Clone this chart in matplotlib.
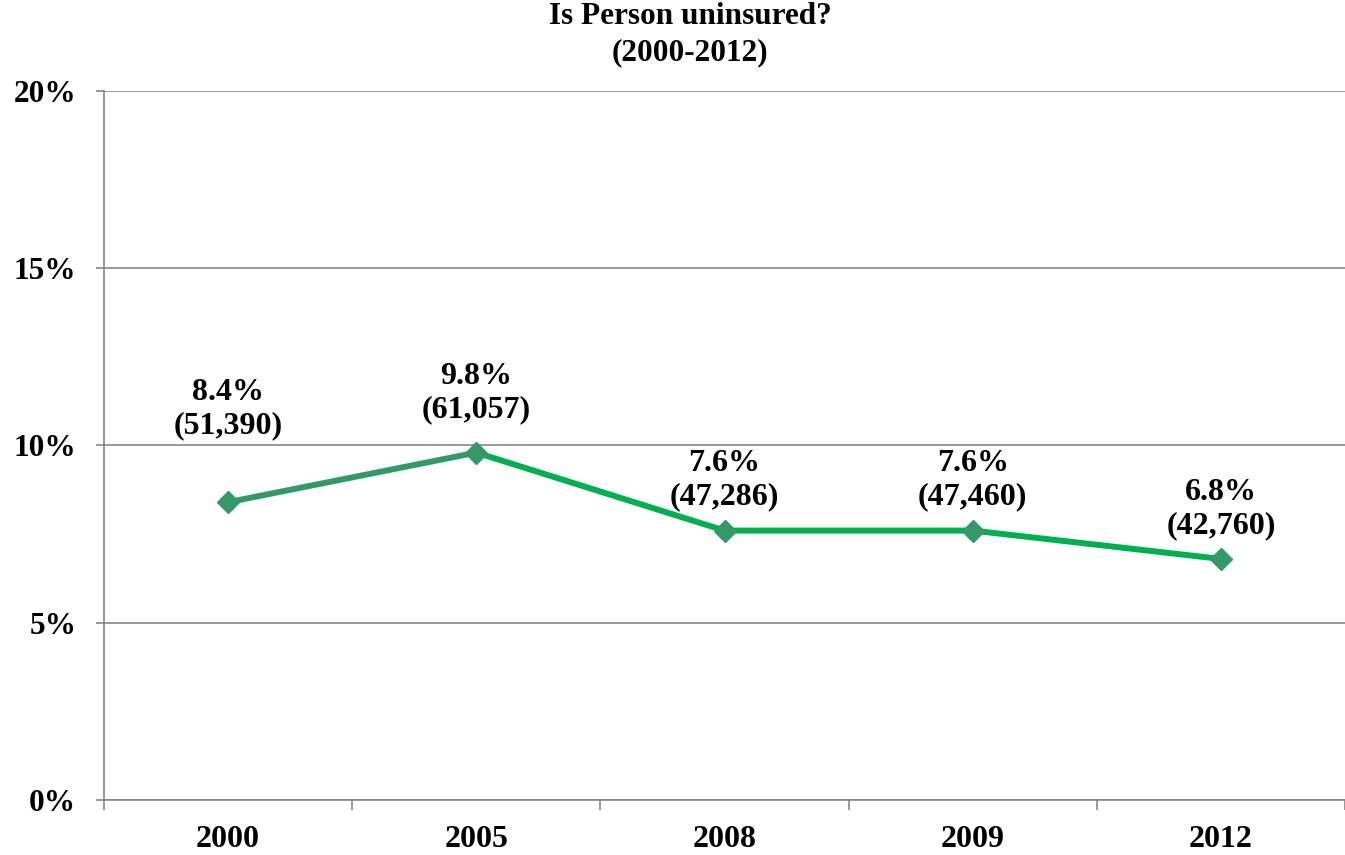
import numpy as np
import matplotlib
matplotlib.use('Agg')
import matplotlib.pyplot as plt

years = ['2000', '2005', '2008', '2009', '2012']
pct = [8.4, 9.8, 7.6, 7.6, 6.8]
counts = ['51,390', '61,057', '47,286', '47,460', '42,760']
yticks = [0, 5, 10, 15, 20]

# pixel offsets of the labels above each point
label_dy = [62, 28, 19, 19, 19]

plt.rcParams['font.family'] = ['Liberation Serif', 'DejaVu Serif']
plt.rcParams['font.weight'] = 'bold'

fig = plt.figure(figsize=(13.45, 8.55), dpi=100)
ax = fig.add_axes([104/1345, 55/855, 1 - 104/1345, (800-91)/855])

grey = '#868686'
x = np.arange(len(years))
ax.plot(x[:2], pct[:2], color='#339966', lw=4.3, solid_capstyle='butt', zorder=3)
ax.plot(x[1:], pct[1:], color='#00b050', lw=4.3, solid_capstyle='butt', zorder=3)
ax.plot(x, pct, ls='none', marker='D', ms=11, color='#339966', zorder=4)

for i in range(len(x)):
    ax.annotate('%.1f%%\n(%s)' % (pct[i], counts[i]), (x[i], pct[i]),
                xytext=(0, label_dy[i] * 0.72), textcoords='offset points',
                ha='center', va='bottom', fontsize=23, fontweight='bold',
                linespacing=1.2)

ax.set_xlim(-0.5, len(years) - 0.5)
ax.set_ylim(0, 20)
ax.set_yticks(yticks)
ax.set_yticklabels(['%d%%' % v for v in yticks])
ax.set_xticks(x)
ax.set_xticklabels(years)
ax.set_xticks(np.arange(len(years) + 1) - 0.5, minor=True)
ax.tick_params(axis='x', which='major', length=0, pad=18, labelsize=23)
ax.tick_params(axis='x', which='minor', length=7, color=grey, width=1.2)
ax.tick_params(axis='y', length=6, color=grey, width=1.2, labelsize=22.5, pad=14)
for lab in ax.get_xticklabels() + ax.get_yticklabels():
    lab.set_fontweight('bold')

ax.grid(axis='y', color=grey, lw=1.2)
ax.set_axisbelow(True)
for s in ['top', 'right']:
    ax.spines[s].set_visible(False)
for s in ['left', 'bottom']:
    ax.spines[s].set_color(grey)
    ax.spines[s].set_linewidth(1.2)

fig.text(690/1345, 1 - 17/855, 'Is Person uninsured?', ha='center', va='center',
         fontsize=22.5, fontweight='bold')
fig.text(690/1345, 1 - 53/855, '(2000-2012)', ha='center', va='center',
         fontsize=22.5, fontweight='bold')

fig.savefig('out.png', dpi=100)
